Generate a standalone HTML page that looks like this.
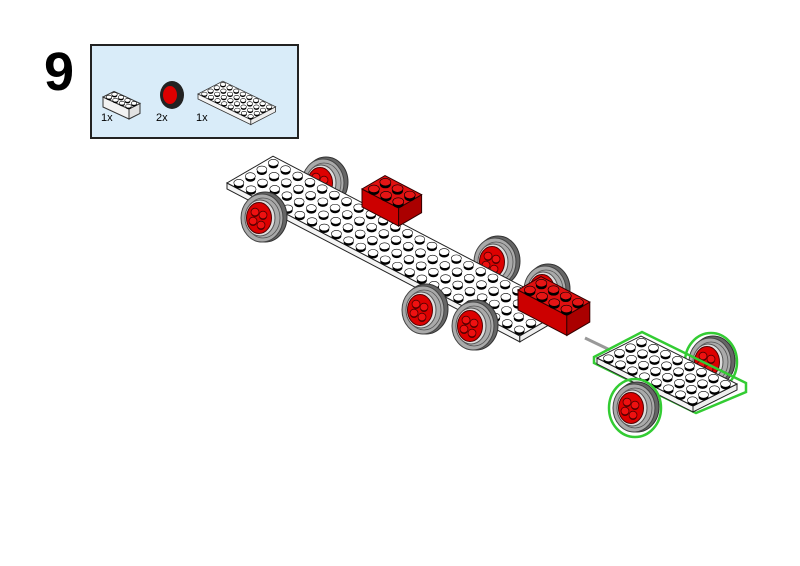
<!DOCTYPE html>
<html><head><meta charset="utf-8"><style>
html,body{margin:0;padding:0;background:#fff;}
svg{display:block;}
</style></head><body>
<svg id="s" width="800" height="566" viewBox="0 0 800 566" xmlns="http://www.w3.org/2000/svg" font-family="Liberation Sans, sans-serif">
<rect width="800" height="566" fill="#fff"/>
<text x="44" y="90" font-size="54" font-weight="bold" fill="#000">9</text>
<rect x="91" y="45" width="207" height="93" fill="#d9ecf9" stroke="#222" stroke-width="2"/>
<g id="parts"></g>
<text x="101" y="121" font-size="11">1x</text>
<text x="156" y="121" font-size="11">2x</text>
<text x="196" y="121" font-size="11">1x</text>
<g id="back"></g>
<g id="main"></g>
<g id="front"></g>
</svg>
<script>
const NS="http://www.w3.org/2000/svg";
function el(p,t,a){const e=document.createElementNS(NS,t);for(const k in a)e.setAttribute(k,a[k]);p.appendChild(e);return e;}
const back=document.getElementById('back'),main=document.getElementById('main'),front=document.getElementById('front'),parts=document.getElementById('parts');
function wheel(g,x,y,s,green){
  s=s||1;
  if(green) el(g,'ellipse',{cx:x+1,cy:y,rx:26*s,ry:29*s,fill:'none',stroke:'#3c3',"stroke-width":2.5});
  el(g,'ellipse',{cx:x+3*s,cy:y-1*s,rx:22*s,ry:25*s,fill:'#666',stroke:'#333','stroke-width':1});
  el(g,'ellipse',{cx:x,cy:y,rx:21*s,ry:24*s,fill:'#aaa',stroke:'#444','stroke-width':1});
  el(g,'ellipse',{cx:x+1,cy:y,rx:17*s,ry:20*s,fill:'none',stroke:'#555','stroke-width':0.8});
  el(g,'ellipse',{cx:x-2*s,cy:y,rx:15*s,ry:18*s,fill:'#ddd',stroke:'#555','stroke-width':1});
  el(g,'ellipse',{cx:x-3*s,cy:y,rx:12.5*s,ry:15.5*s,fill:'#d00',stroke:'#500','stroke-width':1});
  [[-4,-6],[4,-3],[-6,3],[2,7]].forEach(d=>{el(g,'ellipse',{cx:x-3*s+d[0]*s,cy:y+d[1]*s+1.2,rx:4*s,ry:3.8*s,fill:'#500'});el(g,'ellipse',{cx:x-3*s+d[0]*s,cy:y+d[1]*s,rx:4*s,ry:3.8*s,fill:'#e11',stroke:'#500','stroke-width':0.8});});
}
function stud(g,x,y,s,col){
  s=s||1;col=col||'#fff';
  el(g,'ellipse',{cx:x,cy:y+2.2*s,rx:5*s,ry:3.4*s,fill:'#000'});
  el(g,'ellipse',{cx:x,cy:y,rx:5*s,ry:3.4*s,fill:col,stroke:'#000','stroke-width':0.6});
}
function plate(g,O,u,v,L,W,h,stroke,sw,ss){
  const P=(a,b)=>[O[0]+a*u[0]+b*v[0],O[1]+a*u[1]+b*v[1]];
  const A=P(0,0),B=P(L,0),C=P(L,W),D=P(0,W);
  el(g,'polygon',{points:`${A} ${B} ${B[0]},${B[1]+h} ${A[0]},${A[1]+h}`,fill:'#f4f4f4',stroke:stroke||'#222','stroke-width':sw||1});
  el(g,'polygon',{points:`${B} ${C} ${C[0]},${C[1]+h} ${B[0]},${B[1]+h}`,fill:'#eee',stroke:stroke||'#222','stroke-width':sw||1});
  el(g,'polygon',{points:`${A} ${B} ${C} ${D}`,fill:'#fff',stroke:stroke||'#222','stroke-width':sw||1});
  for(let j=W-1;j>=0;j--)for(let i=0;i<L;i++){const p=P(i+0.5,j+0.5);stud(g,p[0],p[1],ss||1);}
  return P;
}
function brick(g,O,u,v,L,W,h,c,ss){
  c=c||['#c00','#a00','#e01010','#e51515','#300'];
  const P=(a,b)=>[O[0]+a*u[0]+b*v[0],O[1]+a*u[1]+b*v[1]];
  const A=P(0,0),B=P(L,0),C=P(L,W),D=P(0,W);
  el(g,'polygon',{points:`${A} ${B} ${B[0]},${B[1]+h} ${A[0]},${A[1]+h}`,fill:c[0],stroke:c[4],'stroke-width':1});
  el(g,'polygon',{points:`${B} ${C} ${C[0]},${C[1]+h} ${B[0]},${B[1]+h}`,fill:c[1],stroke:c[4],'stroke-width':1});
  el(g,'polygon',{points:`${A} ${B} ${C} ${D}`,fill:c[2],stroke:c[4],'stroke-width':1});
  for(let j=W-1;j>=0;j--)for(let i=0;i<L;i++){const p=P(i+0.5,j+0.5);stud(g,p[0],p[1],ss||1.1,c[3]);}
}
// parts box
brick(parts,[103,97],[6.5,3],[5.5,-2.8],4,2,10,['#f2f2f2','#e2e2e2','#fff','#fff','#333'],0.55);
el(parts,'ellipse',{cx:172,cy:95,rx:12,ry:14,fill:'#222'});
el(parts,'ellipse',{cx:170,cy:95,rx:7,ry:9,fill:'#d00'});
plate(parts,[198,94],[6.6,3.2],[6.2,-3.2],8,4,5,'#333',0.8,0.55);
// back wheels
wheel(back,323,183);wheel(back,495,262);wheel(back,545,290);wheel(back,710,362,1,true);
el(back,'line',{x1:585,y1:338,x2:610,y2:350,stroke:'#999','stroke-width':3});
// main plate
plate(main,[227,183],[12.2,6.37],[11.5,-6.7],24,4,6);
brick(main,[362,189],[12.2,6.37],[11.5,-6.7],3,2,18);
brick(main,[518,290],[12.2,6.37],[11.5,-6.7],4,2,20);
// green plate
el(main,'polygon',{points:'594,357 642,332 746,383 746,392 696,413 594,363',fill:'none',stroke:'#3c3','stroke-width':2.5});
plate(main,[597,358],[12,6],[11,-5.5],8,4,6);
// front wheels
wheel(front,262,218);wheel(front,423,310);wheel(front,473,326);wheel(front,634,408,1,true);
</script>
</body></html>
